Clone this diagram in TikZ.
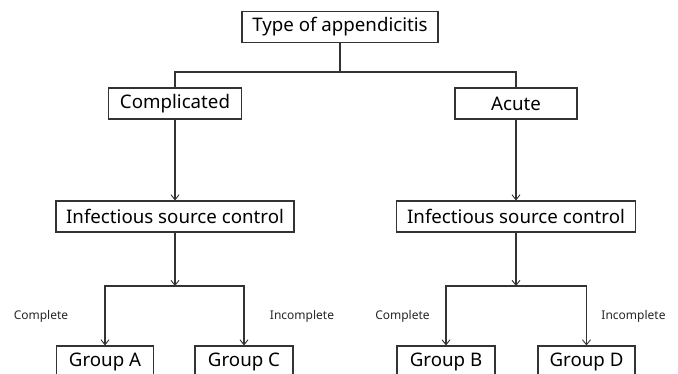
\documentclass[tikz,border=0pt]{standalone}
\usepackage{fontspec}
\setmainfont{Noto Sans}
\usetikzlibrary{arrows.meta}
\begin{document}
\begin{tikzpicture}[x=1pt,y=-1pt,
  box/.style={draw=black!80,line width=1.1pt,minimum height=31pt,inner sep=0pt,font=\fontsize{18.7}{21}\selectfont,text=black},
  lbl/.style={font=\fontsize{12}{14}\selectfont,text=black!85,inner sep=0pt},
  conn/.style={draw=black!80,line width=1.1pt},
  arr/.style={conn,-{Straight Barb[length=5pt,width=8pt,line width=0.9pt]}}]
\useasboundingbox (0,0) rectangle (678,373);
\clip (0,0) rectangle (678,373);
\node[box,minimum width=196pt] (top) at (340,27) {Type of appendicitis};
\node[box,minimum width=133pt] (comp) at (175,103.5) {Complicated};
\node[box,minimum width=122pt] (acute) at (516,103.5) {Acute};
\node[box,minimum width=238pt] (isL) at (175,216.5) {Infectious source control};
\node[box,minimum width=239pt] (isR) at (516,216.5) {Infectious source control};
\node[box,minimum width=97pt] (gA) at (105,361.5) {Group A};
\node[box,minimum width=98pt] (gC) at (244,361.5) {Group C};
\node[box,minimum width=98pt] (gB) at (446,361.5) {Group B};
\node[box,minimum width=97pt] (gD) at (586.5,361.5) {Group D};
\coordinate (j0) at (340,72);
\coordinate (jL) at (175,286);
\coordinate (jR) at (516,286);
\path[conn] (top.south) -- (j0);
\path[conn] (comp.north) |- (j0) -| (acute.north);
\path[arr] (comp.south) -- (isL.north);
\path[arr] (acute.south) -- (isR.north);
\path[arr] (isL.south) -- (jL);
\path[arr] (isR.south) -- (jR);
\path[arr] (jL) -| (gA.north);
\path[arr] (jL) -| (gC.north);
\path[arr] (jR) -| (gB.north);
\path[arr] (jR) -| (gD.north);
\node[lbl] (l1) at (41,316) {Complete};
\node[lbl] (l2) at (302,316) {Incomplete};
\node[lbl] (l3) at (402.5,316) {Complete};
\node[lbl] (l4) at (633.5,316) {Incomplete};
\end{tikzpicture}
\end{document}
